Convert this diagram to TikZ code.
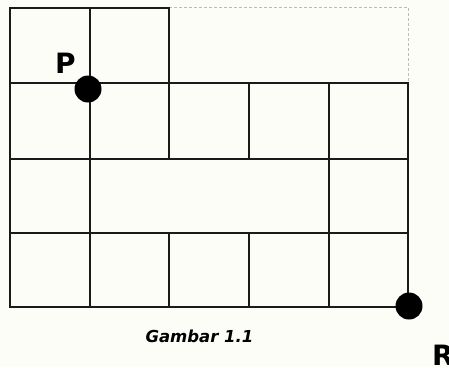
\documentclass[tikz,border=0pt]{standalone}
\usepackage{fontspec}
\newfontfamily\labfont{DejaVu Sans}
\definecolor{bgcol}{HTML}{FDFDF8}
\definecolor{gridcol}{HTML}{1A1A1A}
\definecolor{dashcol}{HTML}{BBBBBB}
\begin{document}
\begin{tikzpicture}[x=1pt,y=-1pt,
  gridline/.style={draw=gridcol,line width=2.2pt,line cap=rect},
  dashline/.style={draw=dashcol,line width=0.8pt,dash pattern=on 3pt off 2pt},
  bigdot/.style={circle,fill=black,inner sep=0pt,minimum size=27pt},
  ptlabel/.style={font=\labfont\bfseries\fontsize{28}{28}\selectfont,inner sep=0pt,text=black},
  caption/.style={font=\labfont\bfseries\itshape\fontsize{16.5}{16.5}\selectfont,inner sep=0pt,text=black}]
\useasboundingbox[fill=bgcol] (0,0) rectangle (449,367);
% dashed outline of the missing part
\draw[dashline] (169,7) -- (408,7) -- (408,83);
% horizontal lines
\draw[gridline] (10,8) -- (169,8);
\draw[gridline] (10,83) -- (408,83);
\draw[gridline] (10,159) -- (408,159);
\draw[gridline] (10,233) -- (408,233);
\draw[gridline] (10,307) -- (408,307);
% vertical lines
\draw[gridline] (10,8) -- (10,307);
\draw[gridline] (90,8) -- (90,307);
\draw[gridline] (169,8) -- (169,159);
\draw[gridline] (169,233) -- (169,307);
\draw[gridline] (249,83) -- (249,159);
\draw[gridline] (249,233) -- (249,307);
\draw[gridline] (329,83) -- (329,307);
\draw[gridline] (408,83) -- (408,307);
% points
\node[bigdot] (p) at (88,89) {};
\node[bigdot] (r) at (409,306) {};
\node[ptlabel,anchor=base west] (plab) at (55,73) {P};
\node[ptlabel,anchor=north west] (rlab) at (432,345) {R};
\node[caption,anchor=base] (cap) at (199.5,342) {Gambar 1.1};
\end{tikzpicture}
\end{document}
